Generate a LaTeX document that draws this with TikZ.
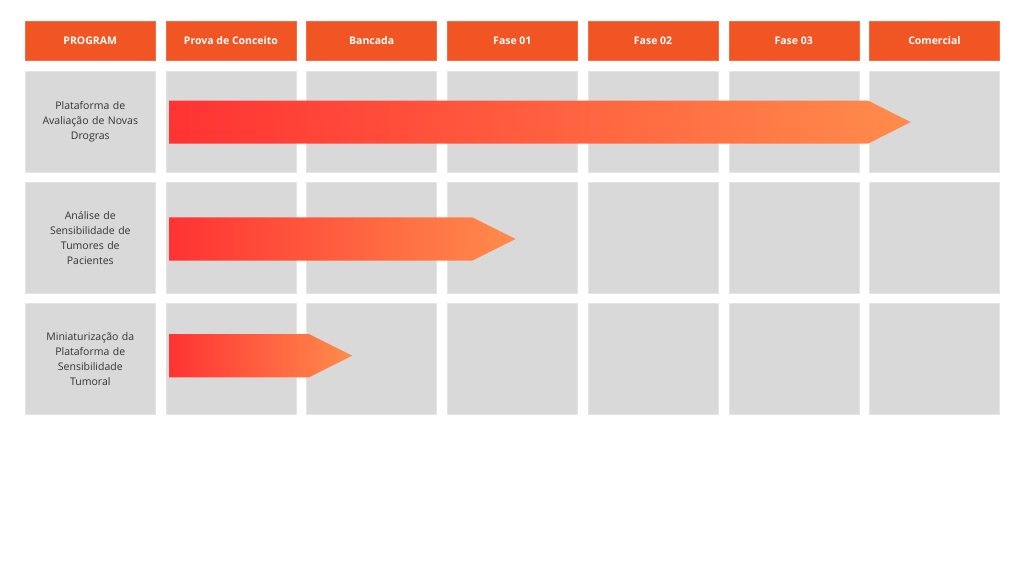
\documentclass[tikz,border=0pt]{standalone}
\usepackage{fontspec}
\setmainfont{Open Sans}
\definecolor{hdr}{HTML}{F05523}
\definecolor{cell}{HTML}{D9D9D9}
\definecolor{cellline}{HTML}{E4E4E4}
\definecolor{txt}{HTML}{333333}
\definecolor{arrL}{HTML}{FF3333}
\definecolor{arrR}{HTML}{FF8C4B}
\begin{document}
\begin{tikzpicture}[x=1pt,y=-1pt,
  hbox/.style={fill=hdr, draw=hdr!85!white, line width=0.5pt, minimum width=130pt, minimum height=39pt, inner sep=0pt, anchor=north west, text=white, text height=7.4pt, text depth=0pt, font=\fontsize{10.5}{12}\selectfont\bfseries},
  cbox/.style={fill=cell, draw=cellline, line width=0.6pt, minimum width=130pt, inner sep=0pt, anchor=north west, text=txt, align=center, text width=120pt, font=\fontsize{10.5}{15}\selectfont},
  bar/.style={left color=arrL, right color=arrR}]
\useasboundingbox (0,0) rectangle (1024,576);
% header row
\foreach \i/\t in {0/PROGRAM,1/Prova de Conceito,2/Bancada,3/Fase 01,4/Fase 02,5/Fase 03,6/Comercial}{
  \node[hbox] (h\i) at ({25+140.7*\i},20.7) {\t};
}
% grid rows
\foreach \i in {1,...,6}{
  \node[cbox, minimum height=101pt] (ra\i) at ({25+140.7*\i},70.5) {};
  \node[cbox, minimum height=110.5pt] (rb\i) at ({25+140.7*\i},182.3) {};
  \node[cbox, minimum height=110.5pt] (rc\i) at ({25+140.7*\i},303.3) {};
}
\node[cbox, minimum height=101pt] (ra0) at (25,70.5) {Plataforma de\\Avaliação de Novas\\Drogras};
\node[cbox, minimum height=110.5pt] (rb0) at (25,182.3) {Análise de\\Sensibilidade de\\Tumores de\\Pacientes};
\node[cbox, minimum height=110.5pt] (rc0) at (25,303.3) {Miniaturização da\\Plataforma de\\Sensibilidade\\Tumoral};
% arrows
\shade[bar] (169,100.7) -- (868.3,100.7) -- (910.7,122.1) -- (868.3,143.5) -- (169,143.5) -- cycle;
\shade[bar] (169,217.3) -- (472.3,217.3) -- (515.5,239) -- (472.3,260.7) -- (169,260.7) -- cycle;
\shade[bar] (169,334) -- (309,334) -- (352.3,355.7) -- (309,377.3) -- (169,377.3) -- cycle;
\end{tikzpicture}
\end{document}
